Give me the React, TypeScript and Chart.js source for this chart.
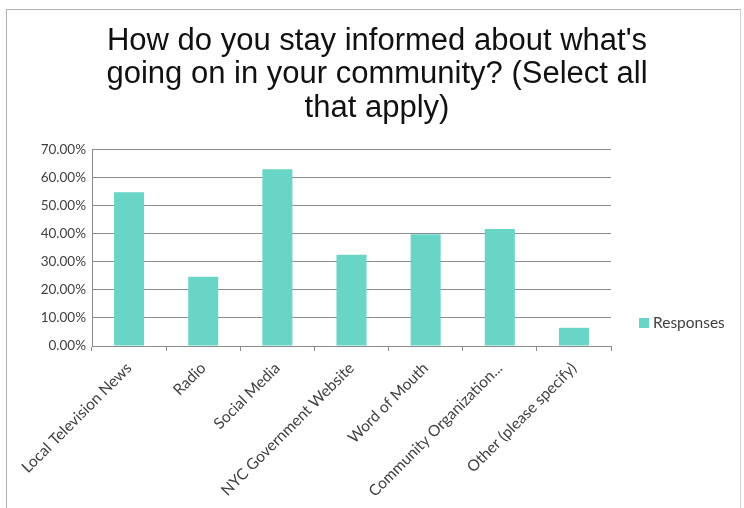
import React, { useEffect, useRef } from "react";
import { Chart, registerables } from "chart.js";

Chart.register(...registerables);

const categories = [
  "Local Television News",
  "Radio",
  "Social Media",
  "NYC Government Website",
  "Word of Mouth",
  "Community Organization...",
  "Other (please specify)",
];
const responses = [54.9, 24.7, 63.1, 32.6, 39.9, 41.8, 6.5];
const seriesName = "Responses";
const titleLines = [
  "How do you stay informed about what's",
  "going on in your community? (Select all",
  "that apply)",
];
const yMax = 70;
const yStep = 10;

const BAR = "#68d5c6";
const AXIS = "#8c8c8c";
const TEXT = "#404040";

const sideLegend = {
  id: "sideLegend",
  afterDraw(chart: any) {
    const { ctx, chartArea } = chart;
    const ds = chart.data.datasets[0];
    const x = chartArea.right + 28;
    const y = chartArea.bottom - 23;
    ctx.save();
    ctx.fillStyle = ds.backgroundColor;
    ctx.fillRect(x, y - 5, 10, 10);
    ctx.fillStyle = TEXT;
    ctx.font = "15.5px Lato";
    ctx.textBaseline = "middle";
    ctx.textAlign = "left";
    ctx.fillText(ds.label, x + 14, y);
    ctx.restore();
  },
};

export default function App() {
  const ref = useRef<HTMLCanvasElement | null>(null);
  useEffect(() => {
    document.body.style.overflow = "hidden";
    const chart = new Chart(ref.current as HTMLCanvasElement, {
      type: "bar",
      data: {
        labels: categories,
        datasets: [
          {
            label: seriesName,
            data: responses,
            backgroundColor: BAR,
            borderWidth: 0,
            barPercentage: 0.405,
            categoryPercentage: 1,
          },
        ],
      },
      options: {
        animation: false,
        responsive: false,
        devicePixelRatio: 1,
        layout: { padding: { left: 10, right: 0, top: 0, bottom: 0 } },
        plugins: {
          legend: { display: false },
          tooltip: { enabled: false },
          title: {
            display: true,
            text: titleLines,
            color: "#111111",
            font: { family: "'Liberation Sans', Arial, sans-serif", size: 31, weight: "normal", lineHeight: 1.08 },
            padding: { top: 24.5, bottom: 25 },
          },
        },
        scales: {
          x: {
            afterFit: (s: any) => { s.height = 162; },
            grid: {
              display: true,
              drawOnChartArea: false,
              offset: true,
              tickLength: 5,
              color: AXIS,
            },
            border: { display: true, color: AXIS },
            ticks: {
              autoSkip: false,
              minRotation: 45,
              maxRotation: 45,
              padding: 8,
              color: TEXT,
              font: { family: "Lato", size: 15.5 },
            },
          },
          y: {
            min: 0,
            max: yMax,
            afterFit: (s: any) => { s.width = 82; },
            grid: { color: AXIS, drawTicks: false },
            border: { display: true, color: AXIS },
            ticks: {
              stepSize: yStep,
              padding: 6,
              color: TEXT,
              font: { family: "Lato", size: 13.5 },
              callback: (v: any) => Number(v).toFixed(2) + "%",
            },
          },
          legendSpace: {
            type: "linear",
            position: "right",
            display: true,
            afterFit: (s: any) => { s.width = 133; },
            grid: { display: false, drawTicks: false },
            border: { display: false },
            ticks: { display: false },
          },
        },
      },
      plugins: [sideLegend],
    });
    return () => chart.destroy();
  }, []);

  return (
    <div style={{ position: "absolute", left: 0, top: 0, width: 744, height: 508, background: "#fff", overflow: "hidden" }}>
      <div
        style={{
          position: "absolute",
          left: 6,
          top: 9,
          width: 735,
          height: 499,
          borderTop: "1px solid #b0b0b0",
          borderLeft: "1px solid #b0b0b0",
          borderRight: "1px solid #d0d0d0",
          boxSizing: "border-box",
        }}
      />
      <canvas ref={ref} width={744} height={508} style={{ position: "absolute", left: 0, top: 0 }} />
    </div>
  );
}
